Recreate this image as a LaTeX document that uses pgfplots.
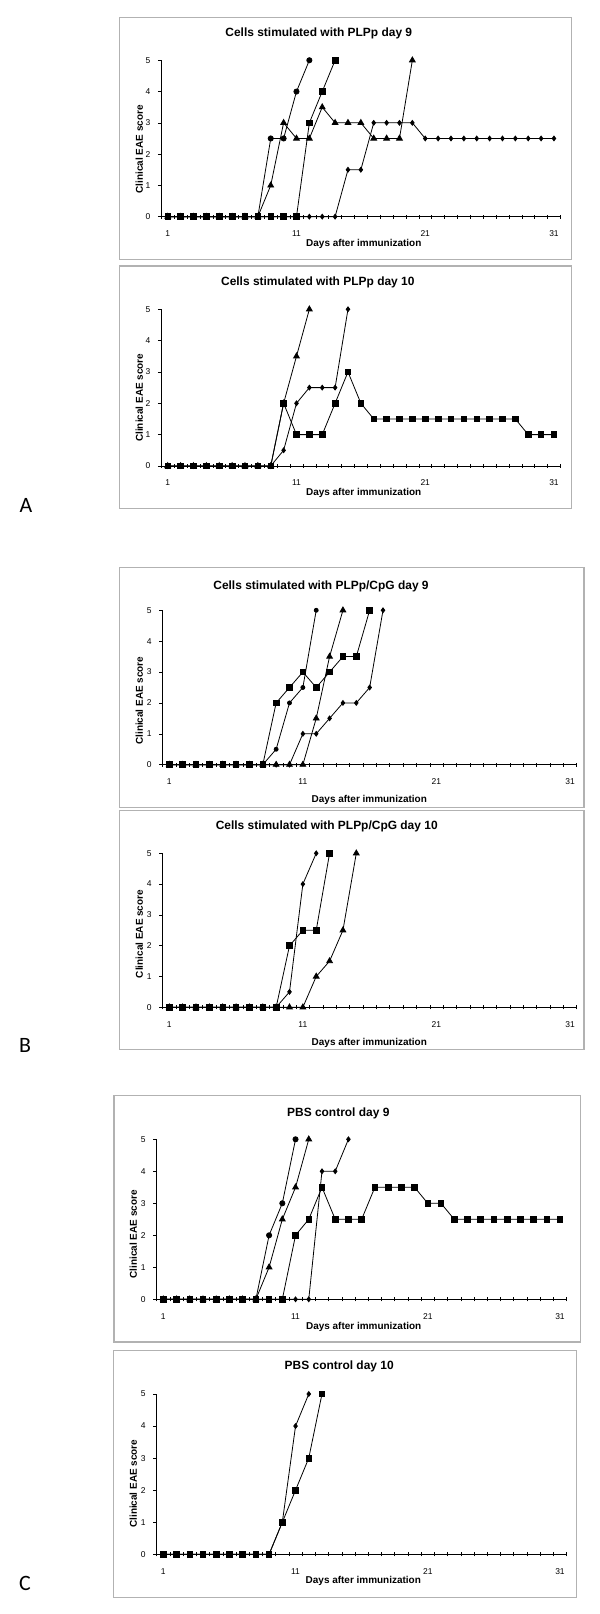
\documentclass[border=0pt]{standalone}
\usepackage{fontspec}
\setmainfont{Liberation Sans}
\newfontfamily\labfont{Carlito}
\usepackage{pgfplots}
\pgfplotsset{compat=1.18}
\pgfplotsset{
  eae/.style={
    scale only axis, xmin=0.5, xmax=31.5, ymin=0, ymax=5,
    axis x line=bottom, axis y line=left,
    axis line style={-, black, line width=0.6bp},
    xtick={1,11,21,31}, ytick={0,1,2,3,4,5},
    minor xtick={0.5,1.5,...,31.5},
    tick align=outside, major tick length=3.5bp, minor tick length=4bp,
    major x tick style={draw=none},
    minor x tick style={black, line width=0.5bp, yshift=2bp},
    major y tick style={black, line width=0.5bp},
    tick label style={font=\fontsize{8.5}{10}\selectfont},
    /pgf/number format/assume math mode=true,
    xticklabel style={yshift=-7bp},
    yticklabel style={xshift=-4bp},
    every axis plot/.append style={black, line width=0.8bp, mark options={solid, fill=black}},
    clip=false,
  },
  sq/.style={mark=square*, mark size=2.8bp},
  tri/.style={mark=triangle*, mark size=3.3bp},
  circ/.style={mark=*, mark size=2.6bp},
  scirc/.style={mark=*, mark size=2bp},
  dia/.style={mark=diamond*, mark size=2.4bp},
}
\tikzset{
  ttl/.style={font=\bfseries\fontsize{12}{14}\selectfont},
  lbl/.style={font=\bfseries\fontsize{10}{12}\selectfont},
  frm/.style={draw=black!30, line width=1.5bp},
}
\begin{document}
\begin{tikzpicture}[x=1bp,y=1bp]
\useasboundingbox (0,0) rectangle (600,1614);
% ---------------- A1 ----------------
\draw[frm] (119.3,1596.7) rectangle (571.3,1354.7);
\begin{axis}[eae, at={(161.3bp,1397.3bp)}, anchor=south west, width=399.1bp, height=156.4bp]
\addplot[dia] coordinates {(1,0)(2,0)(3,0)(4,0)(5,0)(6,0)(7,0)(8,0)(9,0)(10,0)(11,0)(12,0)(13,0)(14,0)(15,1.5)(16,1.5)(17,3)(18,3)(19,3)(20,3)(21,2.5)(22,2.5)(23,2.5)(24,2.5)(25,2.5)(26,2.5)(27,2.5)(28,2.5)(29,2.5)(30,2.5)(31,2.5)};
\addplot[tri] coordinates {(1,0)(2,0)(3,0)(4,0)(5,0)(6,0)(7,0)(8,0)(9,1)(10,3)(11,2.5)(12,2.5)(13,3.5)(14,3)(15,3)(16,3)(17,2.5)(18,2.5)(19,2.5)(20,5)};
\addplot[circ] coordinates {(1,0)(2,0)(3,0)(4,0)(5,0)(6,0)(7,0)(8,0)(9,2.5)(10,2.5)(11,4)(12,5)};
\addplot[sq] coordinates {(1,0)(2,0)(3,0)(4,0)(5,0)(6,0)(7,0)(8,0)(9,0)(10,0)(11,0)(12,3)(13,4)(14,5)};
\end{axis}
\node[ttl] at (318.8,1580.3) {Cells stimulated with PLPp day 9};
\node[lbl, rotate=90] at (139.3,1464.7) {Clinical EAE score};
\node[lbl] at (363.8,1370.3) {Days after immunization};
% ---------------- A2 ----------------
\draw[frm] (119.3,1348) rectangle (571.3,1105.3);
\begin{axis}[eae, at={(161.3bp,1148bp)}, anchor=south west, width=399.1bp, height=156.7bp]
\addplot[tri] coordinates {(1,0)(2,0)(3,0)(4,0)(5,0)(6,0)(7,0)(8,0)(9,0)(10,2)(11,3.5)(12,5)};
\addplot[dia] coordinates {(1,0)(2,0)(3,0)(4,0)(5,0)(6,0)(7,0)(8,0)(9,0)(10,0.5)(11,2)(12,2.5)(13,2.5)(14,2.5)(15,5)};
\addplot[sq] coordinates {(1,0)(2,0)(3,0)(4,0)(5,0)(6,0)(7,0)(8,0)(9,0)(10,2)(11,1)(12,1)(13,1)(14,2)(15,3)(16,2)(17,1.5)(18,1.5)(19,1.5)(20,1.5)(21,1.5)(22,1.5)(23,1.5)(24,1.5)(25,1.5)(26,1.5)(27,1.5)(28,1.5)(29,1)(30,1)(31,1)};
\end{axis}
\node[ttl] at (317.8,1331.5) {Cells stimulated with PLPp day 10};
\node[lbl, rotate=90] at (139.3,1216.2) {Clinical EAE score};
\node[lbl] at (363.7,1121.3) {Days after immunization};
\node[font=\labfont\fontsize{22}{24}\selectfont] at (26,1109) {A};
% ---------------- B1 ----------------
\draw[frm] (119.3,1046.7) rectangle (584,806.7);
\begin{axis}[eae, at={(162.6bp,849.3bp)}, anchor=south west, width=414.1bp, height=154.4bp]
\addplot[dia] coordinates {(1,0)(2,0)(3,0)(4,0)(5,0)(6,0)(7,0)(8,0)(9,0)(10,0)(11,1)(12,1)(13,1.5)(14,2)(15,2)(16,2.5)(17,5)};
\addplot[scirc] coordinates {(1,0)(2,0)(3,0)(4,0)(5,0)(6,0)(7,0)(8,0)(9,0.5)(10,2)(11,2.5)(12,5)};
\addplot[tri] coordinates {(1,0)(2,0)(3,0)(4,0)(5,0)(6,0)(7,0)(8,0)(9,0)(10,0)(11,0)(12,1.5)(13,3.5)(14,5)};
\addplot[sq] coordinates {(1,0)(2,0)(3,0)(4,0)(5,0)(6,0)(7,0)(8,0)(9,2)(10,2.5)(11,3)(12,2.5)(13,3)(14,3.5)(15,3.5)(16,5)};
\end{axis}
\node[ttl] at (321,1028) {Cells stimulated with PLPp/CpG day 9};
\node[lbl, rotate=90] at (139.3,913.3) {Clinical EAE score};
\node[lbl] at (369.3,814) {Days after immunization};
% ---------------- B2 ----------------
\draw[frm] (119.3,803.3) rectangle (584,564.7);
\begin{axis}[eae, at={(162.6bp,606.7bp)}, anchor=south west, width=414.1bp, height=154bp]
\addplot[dia] coordinates {(1,0)(2,0)(3,0)(4,0)(5,0)(6,0)(7,0)(8,0)(9,0)(10,0.5)(11,4)(12,5)};
\addplot[tri] coordinates {(1,0)(2,0)(3,0)(4,0)(5,0)(6,0)(7,0)(8,0)(9,0)(10,0)(11,0)(12,1)(13,1.5)(14,2.5)(15,5)};
\addplot[sq] coordinates {(1,0)(2,0)(3,0)(4,0)(5,0)(6,0)(7,0)(8,0)(9,0)(10,2)(11,2.5)(12,2.5)(13,5)};
\end{axis}
\node[ttl] at (326.7,787.3) {Cells stimulated with PLPp/CpG day 10};
\node[lbl, rotate=90] at (139.3,680) {Clinical EAE score};
\node[lbl] at (369.3,570.7) {Days after immunization};
\node[font=\labfont\fontsize{22}{24}\selectfont] at (25,569) {B};
% ---------------- C1 ----------------
\draw[frm] (114,518.7) rectangle (580.7,272);
\begin{axis}[eae, at={(156.7bp,314.7bp)}, anchor=south west, width=409.9bp, height=160bp]
\addplot[dia] coordinates {(1,0)(2,0)(3,0)(4,0)(5,0)(6,0)(7,0)(8,0)(9,0)(10,0)(11,0)(12,0)(13,4)(14,4)(15,5)};
\addplot[tri] coordinates {(1,0)(2,0)(3,0)(4,0)(5,0)(6,0)(7,0)(8,0)(9,1)(10,2.5)(11,3.5)(12,5)};
\addplot[circ] coordinates {(1,0)(2,0)(3,0)(4,0)(5,0)(6,0)(7,0)(8,0)(9,2)(10,3)(11,5)};
\addplot[sq] coordinates {(1,0)(2,0)(3,0)(4,0)(5,0)(6,0)(7,0)(8,0)(9,0)(10,0)(11,2)(12,2.5)(13,3.5)(14,2.5)(15,2.5)(16,2.5)(17,3.5)(18,3.5)(19,3.5)(20,3.5)(21,3)(22,3)(23,2.5)(24,2.5)(25,2.5)(26,2.5)(27,2.5)(28,2.5)(29,2.5)(30,2.5)(31,2.5)};
\end{axis}
\node[ttl] at (338.3,500.7) {PBS control day 9};
\node[lbl, rotate=90] at (133.3,379.7) {Clinical EAE score};
\node[lbl] at (363.7,287) {Days after immunization};
% ---------------- C2 ----------------
\draw[frm] (113.3,263.3) rectangle (576.7,16.7);
\begin{axis}[eae, at={(156.7bp,59.7bp)}, anchor=south west, width=409.9bp, height=160.3bp]
\addplot[dia] coordinates {(1,0)(2,0)(3,0)(4,0)(5,0)(6,0)(7,0)(8,0)(9,0)(10,1)(11,4)(12,5)};
\addplot[sq] coordinates {(1,0)(2,0)(3,0)(4,0)(5,0)(6,0)(7,0)(8,0)(9,0)(10,1)(11,2)(12,3)(13,5)};
\end{axis}
\node[ttl] at (339.2,247.3) {PBS control day 10};
\node[lbl, rotate=90] at (133.3,130.3) {Clinical EAE score};
\node[lbl] at (363.3,33) {Days after immunization};
\node[font=\labfont\fontsize{22}{24}\selectfont] at (25,31) {C};
\end{tikzpicture}
\end{document}
